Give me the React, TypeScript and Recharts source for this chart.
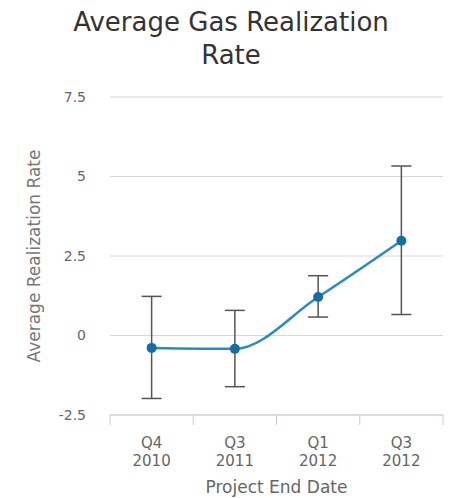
import React from "react";
import {
  LineChart,
  Line,
  XAxis,
  YAxis,
  CartesianGrid,
  ErrorBar,
} from "recharts";

// values
const quarters = ["Q4 2010", "Q3 2011", "Q1 2012", "Q3 2012"];
const avgRate = [-0.39, -0.42, 1.21, 2.98];
const rateLow = [-1.98, -1.61, 0.58, 0.66];
const rateHigh = [1.23, 0.79, 1.88, 5.33];
const yTicks = [-2.5, 0, 2.5, 5, 7.5];

const data = quarters.map((q, i) => ({
  quarter: q,
  rate: avgRate[i],
  err: [avgRate[i] - rateLow[i], rateHigh[i] - avgRate[i]],
}));

const W = 450;
const H = 498;
const MARGIN = { top: 97, right: 7, bottom: 3, left: 50 };
const Y_AXIS_W = 60;
const BAND = (W - MARGIN.left - MARGIN.right - Y_AXIS_W) / quarters.length;

const FONT = "'DejaVu Sans', Verdana, sans-serif";
const AXIS_COLOR = "#C0D0E0";

// eslint-disable-next-line @typescript-eslint/no-explicit-any
const QuarterTick = ({ x, y, payload, index }: any) => {
  const [q, yr] = String(payload.value).split(" ");
  const left = x - BAND / 2;
  return (
    <g>
      <line x1={left} y1={y} x2={left} y2={y + 10} stroke={AXIS_COLOR} />
      {index === quarters.length - 1 && (
        <line x1={left + BAND} y1={y} x2={left + BAND} y2={y + 10} stroke={AXIS_COLOR} />
      )}
      <text
        x={x}
        y={y}
        textAnchor="middle"
        fill="#666"
        fontSize={15}
        fontFamily={FONT}
      >
        <tspan x={x} dy={33}>{q}</tspan>
        <tspan x={x} dy={18}>{yr}</tspan>
      </text>
    </g>
  );
};

export default function App() {
  return (
    <div
      style={{
        position: "absolute",
        left: 0,
        top: 0,
        width: W,
        height: H,
        background: "#fff",
        fontFamily: FONT,
      }}
    >
      <div
        style={{
          position: "absolute",
          left: 6,
          top: 6,
          width: W,
          textAlign: "center",
          fontSize: 26,
          lineHeight: "33px",
          color: "#333",
        }}
      >
        Average Gas Realization
        <br />
        Rate
      </div>
      <LineChart width={W} height={H} data={data} margin={MARGIN}>
        <CartesianGrid vertical={false} stroke="#D8D8D8" />
        <XAxis
          dataKey="quarter"
          height={80}
          padding={{ left: BAND / 2, right: BAND / 2 }}
          tickSize={0}
          tickMargin={0}
          tickLine={false}
          axisLine={{ stroke: AXIS_COLOR }}
          interval={0}
          tick={<QuarterTick />}
          label={{
            value: "Project End Date",
            position: "insideBottom",
            offset: 2,
            fill: "#666",
            fontSize: 17,
            fontFamily: FONT,
          }}
        />
        <YAxis
          width={Y_AXIS_W}
          domain={[-2.5, 7.5]}
          ticks={yTicks}
          tickSize={0}
          tickMargin={24}
          axisLine={false}
          tickLine={false}
          tick={{ fontSize: 14, fill: "#666", fontFamily: FONT }}
          label={{
            // eslint-disable-next-line @typescript-eslint/no-explicit-any
            content: ({ viewBox }: any) => {
              const cx = viewBox.x - 16;
              const cy = viewBox.y + viewBox.height / 2;
              return (
                <text
                  x={cx}
                  y={cy}
                  transform={`rotate(-90 ${cx} ${cy})`}
                  textAnchor="middle"
                  dominantBaseline="central"
                  fill="#777"
                  fontSize={17}
                  fontFamily={FONT}
                >
                  Average Realization Rate
                </text>
              );
            },
          }}
        />
        <Line
          type="monotone"
          dataKey="rate"
          stroke="#2a8ac4"
          strokeWidth={2.5}
          dot={{ r: 5, fill: "#146da5", stroke: "#146da5", strokeWidth: 0 }}
          isAnimationActive={false}
        >
          <ErrorBar
            dataKey="err"
            width={10}
            stroke="#555"
            strokeWidth={1.5}
            direction="y"
          />
        </Line>
      </LineChart>
    </div>
  );
}
